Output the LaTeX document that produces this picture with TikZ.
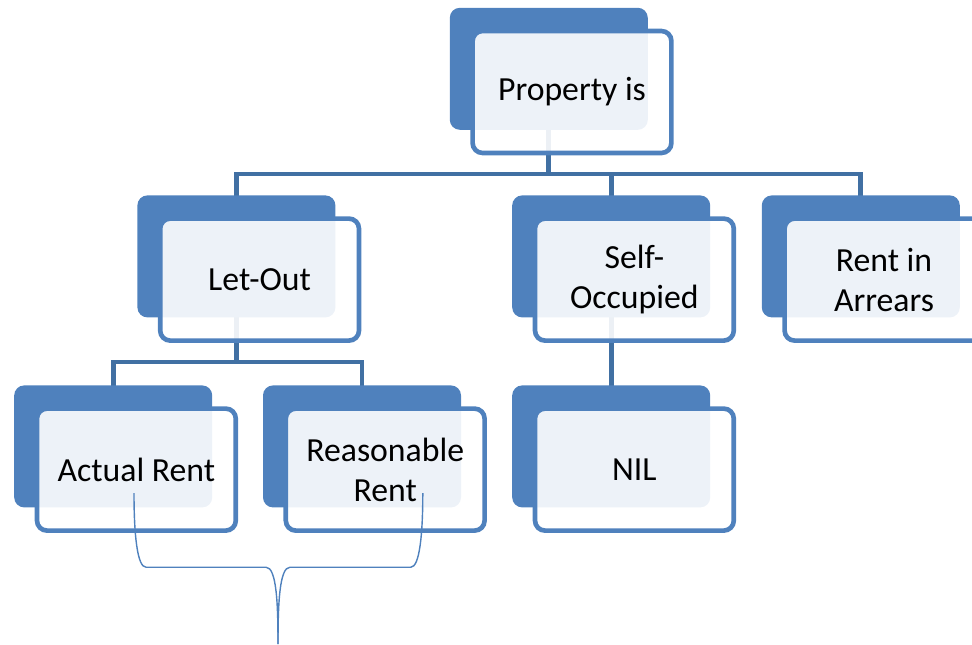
\documentclass[tikz,border=0pt]{standalone}
\usepackage{fontspec}
\setmainfont{Carlito}
\usetikzlibrary{backgrounds}
\pgfdeclarelayer{edgelayer}
\pgfdeclarelayer{nodelayer}
\pgfsetlayers{edgelayer,nodelayer,main}
\definecolor{smartblue}{RGB}{79,129,189}
\definecolor{linkblue}{RGB}{65,112,163}
\tikzset{font=\fontsize{24}{28.5}\selectfont}
\tikzstyle{none}=[inner sep=0pt]
\tikzstyle{back}=[rectangle,rounded corners=0.25cm,fill=smartblue,minimum width=4.95cm,minimum height=3.05cm,inner sep=0pt]
\tikzstyle{front}=[rectangle,rounded corners=0.25cm,draw=smartblue,line width=3.3pt,fill=white,fill opacity=0.9,text opacity=1,minimum width=4.97cm,minimum height=3.05cm,align=center]
\tikzstyle{link}=[draw=linkblue,line width=3.5pt]
\tikzstyle{brace}=[draw=smartblue,line width=1pt]

\begin{document}
\begin{tikzpicture}
	\useasboundingbox (0,0) rectangle (24.3,-16.1);
	\begin{pgfonlayer}{nodelayer}
		\node [style=back] (0) at (13.72, -1.72) {};
		\node [style=front] (1) at (14.3, -2.3) {Property is};
		\node [style=back] (2) at (5.91, -6.41) {};
		\node [style=front] (3) at (6.49, -6.99) {Let-Out};
		\node [style=back] (4) at (15.28, -6.41) {};
		\node [style=front] (5) at (15.86, -6.99) {Self-\\Occupied};
		\node [style=back] (6) at (21.52, -6.41) {};
		\node [style=front] (7) at (22.1, -6.99) {Rent in\\Arrears};
		\node [style=back] (8) at (2.83, -11.16) {};
		\node [style=front] (9) at (3.41, -11.74) {Actual Rent};
		\node [style=back] (10) at (9.05, -11.16) {};
		\node [style=front] (11) at (9.63, -11.74) {Reasonable\\Rent};
		\node [style=back] (12) at (15.28, -11.16) {};
		\node [style=front] (13) at (15.86, -11.74) {NIL};
		\node [style=none] (14) at (13.72, -4.35) {};
		\node [style=none] (15) at (5.91, -9.05) {};
		\node [style=none] (16) at (3.35, -12.33) {};
		\node [style=none] (17) at (10.57, -12.33) {};
		\node [style=none] (18) at (6.95, -16.1) {};
	\end{pgfonlayer}
	\begin{pgfonlayer}{edgelayer}
		\draw [style=link] (0.center) to (14.center);
		\draw [style=link] (2.center) |- (14.center);
		\draw [style=link] (4.center) |- (14.center);
		\draw [style=link] (6.center) |- (14.center);
		\draw [style=link] (2.center) to (15.center);
		\draw [style=link] (8.center) |- (15.center);
		\draw [style=link] (10.center) |- (15.center);
		\draw [style=link] (4.center) to (12.center);
	\end{pgfonlayer}
	\draw [style=brace] (16.center) to[out=-90, in=180, out looseness=1.4, in looseness=0.3] ++(0.3, -1.85) -- ++(3.0, 0) to[out=0, in=90, out looseness=0.35, in looseness=1.3] (18.center);
	\draw [style=brace] (17.center) to[out=-90, in=0, out looseness=1.4, in looseness=0.3] ++(-0.3, -1.85) -- ++(-3.02, 0) to[out=180, in=90, out looseness=0.35, in looseness=1.3] (18.center);
\end{tikzpicture}
\end{document}
